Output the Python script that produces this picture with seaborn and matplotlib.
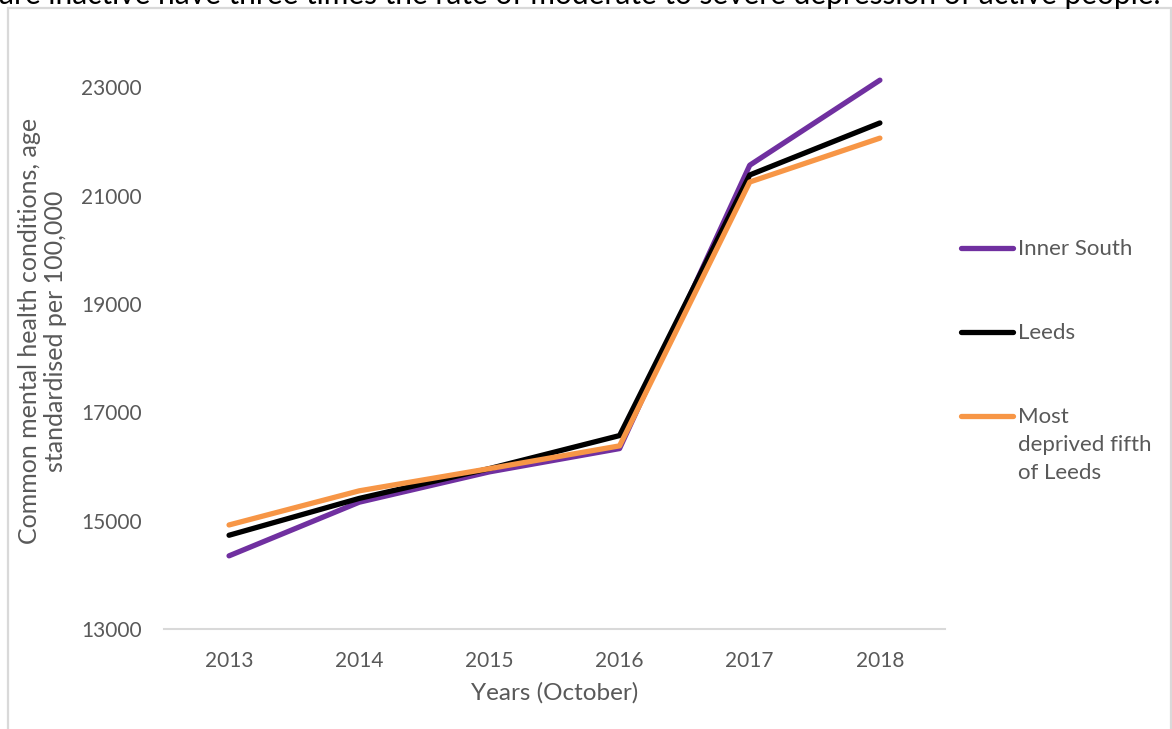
import matplotlib
matplotlib.use("Agg")
import matplotlib.pyplot as plt
from matplotlib.lines import Line2D
from matplotlib.patches import Rectangle
import pandas as pd
import seaborn as sns

years = [2013, 2014, 2015, 2016, 2017, 2018]
inner_south = [14350, 15340, 15900, 16330, 21560, 23130]
leeds = [14730, 15410, 15960, 16570, 21380, 22340]
most_deprived = [14920, 15550, 15960, 16380, 21250, 22060]

series_names = ["Inner South", "Leeds", "Most deprived fifth of Leeds"]
legend_labels = ["Inner South", "Leeds", "Most\ndeprived fifth\nof Leeds"]
colours = ["#7030A0", "#000000", "#F79646"]
y_ticks = [13000, 15000, 17000, 19000, 21000, 23000]

df = pd.DataFrame({
    "year": years * 3,
    "value": inner_south + leeds + most_deprived,
    "series": [n for n in series_names for _ in years],
})

sns.set_style("white")
plt.rcParams["font.family"] = ["Lato", "DejaVu Sans"]
GREY = "#595959"

fig = plt.figure(figsize=(11.72, 7.29), dpi=100)
ax = fig.add_axes([0.1399, 0.1372, 0.8063 - 0.1399, 0.9547 - 0.1372])

sns.lineplot(data=df, x="year", y="value", hue="series", palette=colours,
             hue_order=series_names, linewidth=3.8, sort=False, legend=False,
             ax=ax, solid_capstyle="round", solid_joinstyle="round")

ax.set_xlim(2012.5, 2018.5)
ax.set_ylim(13000, 24000)
ax.set_xticks(years)
ax.set_yticks(y_ticks)
ax.set_xticklabels([str(y) for y in years])
ax.tick_params(axis="both", length=0, labelsize=15, labelcolor=GREY)
ax.tick_params(axis="x", pad=16)
ax.tick_params(axis="y", pad=16)
for side in ["top", "right", "left"]:
    ax.spines[side].set_visible(False)
ax.spines["bottom"].set_color("#d9d9d9")
ax.spines["bottom"].set_linewidth(1.5)

ax.set_xlabel("Years (October)", fontsize=17.5, color=GREY, labelpad=8)
ax.set_ylabel("Common mental health conditions, age\nstandardised per 100,000",
              fontsize=18, color=GREY, labelpad=10, linespacing=1.15)

# legend drawn at the right, handle aligned with first text line
W, H = 1172, 729
leg_y = [248, 332, 416]
for lab, col, y in zip(legend_labels, colours, leg_y):
    fig.add_artist(Line2D([961 / W, 1013 / W], [1 - y / H, 1 - y / H], color=col,
                          linewidth=3.8, solid_capstyle="round"))
    fig.text(1018 / W, 1 - (y - 9) / H, lab, fontsize=16, color=GREY,
             va="top", ha="left", linespacing=1.5)

# chart frame and clipped caption line from the page above
fig.add_artist(Rectangle((7.5 / W, -0.05), (1171 - 7.5) / W, 1 - 7.5 / H + 0.05,
                         fill=False, edgecolor="#d9d9d9", linewidth=1.6,
                         transform=fig.transFigure))
cap = fig.text(-1 / W, 1 - 4 / H,
               "are inactive have three times the rate of moderate to severe depression of active people.",
               fontsize=20, color="black", ha="left", va="baseline")
renderer = fig.canvas.get_renderer()
w = cap.get_window_extent(renderer).width
cap.set_fontsize(20 * 1164 / w)

fig.savefig("out.png", dpi=100)
